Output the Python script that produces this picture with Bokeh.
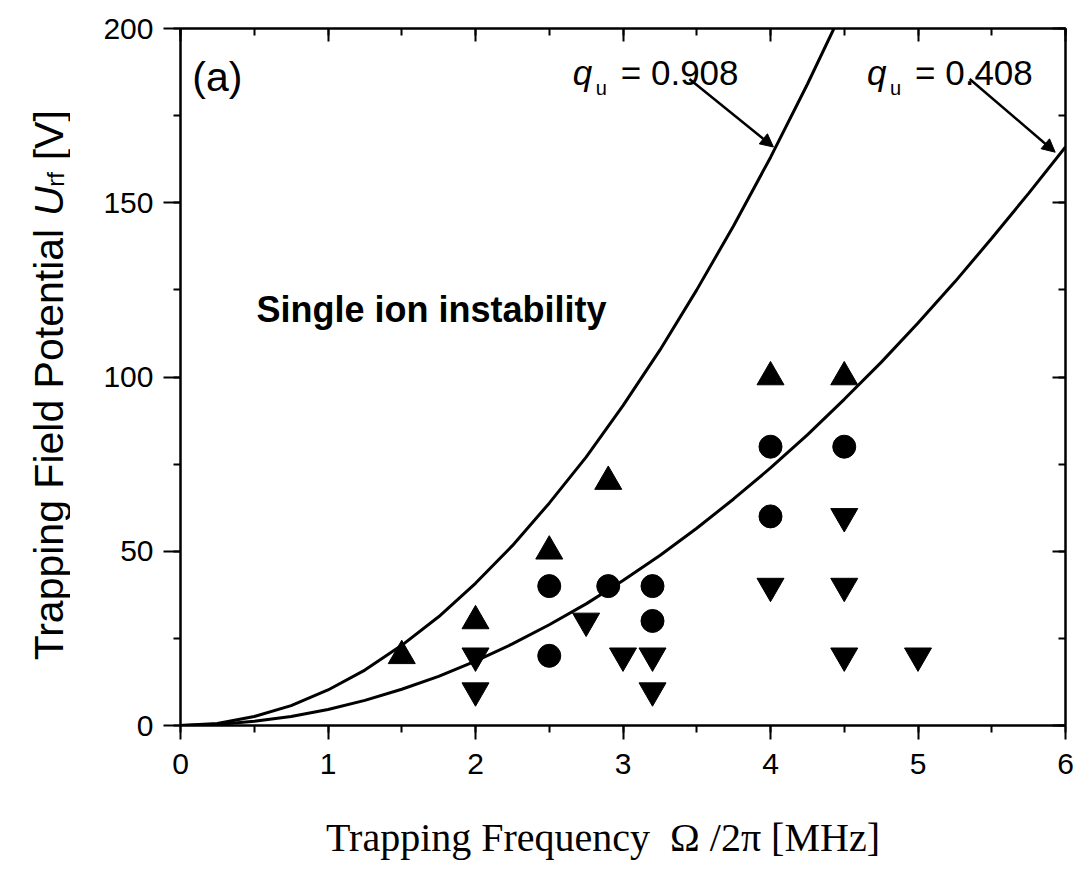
import numpy as np
from bokeh.plotting import figure
from bokeh.layouts import row
from bokeh.models import (LinearAxis, Range1d, Label, Arrow, NormalHead,
                          SingleIntervalTicker, CustomLabelingPolicy)
from bokeh.core.properties import value
from bokeh.embed import file_html
from bokeh.resources import INLINE

# ---- data ----
f_hi = [0, 0.25, 0.5, 0.75, 1.0, 1.25, 1.5, 1.75, 2.0, 2.25, 2.5, 2.75, 3.0,
        3.25, 3.5, 3.75, 4.0, 4.25, 4.43]
u_hi = [0, 0.6, 2.6, 5.7, 10.2, 15.9, 23.0, 31.2, 40.8, 51.6, 63.8, 77.0, 91.8,
        107.7, 125.0, 143.4, 163.0, 184.0, 200.0]
f_lo = [0, 0.25, 0.5, 0.75, 1.0, 1.25, 1.5, 1.75, 2.0, 2.25, 2.5, 2.75, 3.0,
        3.25, 3.5, 3.75, 4.0, 4.25, 4.5, 4.75, 5.0, 5.25, 5.5, 5.75, 6.0]
u_lo = [0, 0.3, 1.2, 2.6, 4.6, 7.2, 10.4, 14.1, 18.5, 23.4, 28.9, 34.9, 41.6,
        48.8, 56.6, 65.0, 73.9, 83.4, 93.6, 104.2, 115.5, 127.3, 139.8, 152.7, 166.0]

up_x = [1.5, 2.0, 2.5, 2.9, 4.0, 4.5]
up_y = [20, 30, 50, 70, 100, 100]
circ_x = [2.5, 2.5, 2.9, 3.2, 3.2, 4.0, 4.0, 4.5]
circ_y = [40, 20, 40, 40, 30, 80, 60, 80]
down_x = [2.0, 2.0, 2.75, 3.0, 3.2, 3.2, 4.0, 4.5, 4.5, 4.5, 5.0]
down_y = [20, 10, 30, 20, 20, 10, 40, 60, 40, 20, 20]

x_label = "Trapping Frequency \u00a0\u03a9 /2\u03c0 [MHz]" + "\u00a0" * 4
y_label_parts = ["Trapping Field Potential\u00a0", "U", "rf", "\u00a0[V]"]
curve_labels = ["0.908", "0.408"]

SANS = "Liberation Sans"
SERIF = "Liberation Serif"
H = 871
LW = 70  # width of the strip that holds the y-axis title
TOP, BOTTOM = 28, 146

# ---- main plot ----
p = figure(width=1074 - LW, height=H, x_range=Range1d(0, 6), y_range=Range1d(0, 200),
           output_backend="svg", toolbar_location=None,
           min_border_left=110, min_border_right=9, min_border_top=TOP,
           min_border_bottom=BOTTOM, background_fill_color="white",
           border_fill_color="white")
p.grid.visible = False
p.outline_line_color = "black"
p.outline_line_width = 2

xa = p.xaxis[0]
xa.ticker = SingleIntervalTicker(interval=1, num_minor_ticks=2)
ya = p.yaxis[0]
ya.ticker = SingleIntervalTicker(interval=50, num_minor_ticks=2)
for ax in (xa, ya):
    ax.axis_line_width = 2
    ax.major_tick_line_width = 2
    ax.minor_tick_line_width = 2
    ax.major_tick_in = 0
    ax.minor_tick_in = 0
    ax.minor_tick_out = 7
    ax.major_label_text_font = SANS
    ax.major_label_text_font_size = "30px"
    ax.major_label_text_color = "black"
xa.major_tick_out = 14
xa.major_label_standoff = 14
ya.major_tick_out = 17
ya.major_label_standoff = 10

xa.axis_label = x_label
xa.axis_label_text_font = SERIF
xa.axis_label_text_font_style = "normal"
xa.axis_label_text_font_size = "40px"
xa.axis_label_text_color = "black"
xa.axis_label_standoff = 38
ya.axis_label = None

for loc, interval in (("above", 1), ("right", 50)):
    ax = LinearAxis(ticker=SingleIntervalTicker(interval=interval, num_minor_ticks=2),
                    major_tick_in=13, major_tick_out=0, minor_tick_in=7,
                    minor_tick_out=0, major_label_text_font_size="0px",
                    major_label_standoff=0, axis_line_width=2,
                    major_tick_line_width=2, minor_tick_line_width=2,
                    major_label_policy=CustomLabelingPolicy(code="return []"))
    p.add_layout(ax, loc)

p.line(f_hi, u_hi, line_width=3, color="black")
p.line(f_lo, u_lo, line_width=3, color="black")

p.scatter(up_x, up_y, marker="triangle", size=27, color="black")
p.scatter(circ_x, circ_y, marker="circle", size=23, color="black")
p.scatter(down_x, down_y, marker="inverted_triangle", size=27, color="black")

# ---- annotations ----
def lab(x, y, text, size, font=SANS, style="normal"):
    p.add_layout(Label(x=x, y=y, text=text, text_font=font,
                       text_font_size=size, text_font_style=style,
                       text_color="black", text_baseline="alphabetic",
                       text_align="left"))

lab(0.08, 186.0, "(a)", "41px")
lab(0.515, 119.5, "Single ion instability", "36px", style="bold")

# q_u = 0.908
lab(2.66, 187.5, "q", "35px", style="italic")
lab(2.815, 182.9, "u", "20px")
lab(2.985, 187.5, "= " + curve_labels[0], "35px")
# q_u = 0.408
lab(4.655, 187.5, "q", "35px", style="italic")
lab(4.81, 182.9, "u", "20px")
lab(4.98, 187.5, "= " + curve_labels[1], "35px")

p.add_layout(Arrow(x_start=3.45, y_start=185.5, x_end=4.02, y_end=166,
                   line_width=2.5, line_color="black",
                   end=NormalHead(size=13, fill_color="black", line_color="black")))
p.add_layout(Arrow(x_start=5.35, y_start=185.5, x_end=5.93, y_end=164.5,
                   line_width=2.5, line_color="black",
                   end=NormalHead(size=13, fill_color="black", line_color="black")))

# ---- strip with the rotated y-axis title (same vertical scale as the plot) ----
t = figure(width=LW, height=H, x_range=Range1d(0, LW), y_range=Range1d(0, 200),
           output_backend="svg", toolbar_location=None,
           x_axis_type=None, y_axis_type=None,
           min_border_left=0, min_border_right=0, min_border_top=TOP,
           min_border_bottom=BOTTOM, outline_line_color=None,
           background_fill_color="white", border_fill_color="white")
t.grid.visible = False

a90 = np.pi / 2
base_x = 48
sizes = ["41px", "41px", "24px", "41px"]
styles = ["normal", "italic", "normal", "normal"]
xs = [base_x, base_x, base_x + 7, base_x]
ys = [18.7, 146.2, 154.6, 158.9]   # start of each piece along the axis (V)
for i in range(4):
    t.text(x=[xs[i]], y=[ys[i]], text=[y_label_parts[i]], angle=a90,
           text_font=value(SANS), text_font_size=sizes[i],
           text_font_style=styles[i], text_color="black",
           text_baseline="alphabetic", text_align="left")

layout = row(t, p, spacing=0)
open("out.html", "w").write(file_html(layout, INLINE))
